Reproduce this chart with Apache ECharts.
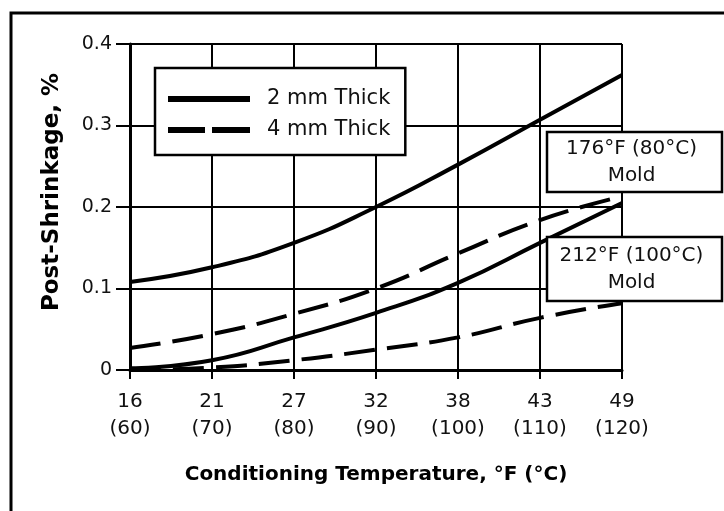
<!DOCTYPE html>
<html><head><meta charset="utf-8">
<script src="https://cdn.jsdelivr.net/npm/echarts@6/dist/echarts.min.js"></script>
<style>html,body{margin:0;padding:0;background:#fff}#c{width:724px;height:511px}</style>
</head><body><div id="c"></div>
<script>
const categories = ['16\n(60)', '21\n(70)', '27\n(80)', '32\n(90)', '38\n(100)', '43\n(110)', '49\n(120)'];
const mold176_2mm = [0.108, 0.126, 0.156, 0.200, 0.252, 0.307, 0.362];
const mold176_4mm = [0.027, 0.044, 0.069, 0.100, 0.143, 0.184, 0.213];
const mold212_2mm = [0.002, 0.012, 0.040, 0.070, 0.107, 0.156, 0.205];
const mold212_4mm = [0.000, 0.003, 0.012, 0.025, 0.040, 0.064, 0.082];
const yTicks = [0, 0.1, 0.2, 0.3, 0.4];
const annotation176 = '176°F (80°C)\nMold';
const annotation212 = '212°F (100°C)\nMold';

const font = 'DejaVu Sans';
const chart = echarts.init(document.getElementById('c'));
const solid = {type: 'solid', width: 4, color: '#000'};
const dashed = {type: [31, 12], width: 4, color: '#000'};
function ser(name, data, ls) {
  return {name, type: 'line', data, smooth: true, symbol: 'none', showSymbol: false,
    lineStyle: ls, itemStyle: {color: '#000'}, z: 5, animation: false};
}
function box(x, y, w, h, text) {
  return {type: 'group', z: 20, children: [
    {type: 'rect', shape: {x, y, width: w, height: h}, style: {fill: '#fff', stroke: '#000', lineWidth: 2.5}, z: 20},
    {type: 'text', x: x + w / 2 - 3, y: y + h / 2, z: 21, style: {text, fontFamily: font, fontSize: 20, lineHeight: 27,
      fill: '#111', align: 'center', verticalAlign: 'middle'}}
  ]};
}
chart.setOption({
  animation: false,
  backgroundColor: '#fff',
  grid: {left: 130, right: 102, top: 44, bottom: 141},
  xAxis: {
    type: 'category', data: categories, boundaryGap: false,
    axisLine: {lineStyle: {color: '#000', width: 3}},
    axisTick: {show: true, length: 9, lineStyle: {color: '#000', width: 2}},
    splitLine: {show: true, lineStyle: {color: '#000', width: 2}},
    axisLabel: {color: '#111', fontFamily: font, fontSize: 20, lineHeight: 27, margin: 18, interval: 0},
    name: 'Conditioning Temperature, °F (°C)', nameLocation: 'middle', nameGap: 95,
    nameTextStyle: {color: '#000', fontFamily: font, fontSize: 20, fontWeight: 'bold'}
  },
  yAxis: {
    type: 'value', min: 0, max: 0.4, interval: 0.1,
    axisLine: {show: true, lineStyle: {color: '#000', width: 3}},
    axisTick: {show: true, length: 14, lineStyle: {color: '#000', width: 2}},
    splitLine: {show: true, lineStyle: {color: '#000', width: 2}},
    axisLabel: {color: '#111', fontFamily: font, fontSize: 19, margin: 18,
      formatter: v => { const t = yTicks.find(x => Math.abs(x - v) < 1e-9); return t === undefined ? '' : String(t); }},
    name: 'Post-Shrinkage, %', nameLocation: 'middle', nameGap: 66, nameRotate: 90,
    nameTextStyle: {color: '#000', fontFamily: font, fontSize: 23, fontWeight: 'bold', padding: [0, 0, 0, 30]}
  },
  legend: {
    left: 155, top: 68, orient: 'vertical', itemGap: 9,
    backgroundColor: '#fff', borderColor: '#000', borderWidth: 2.5, borderRadius: 0,
    padding: [20, 15, 14, 13], itemWidth: 82, itemHeight: 6,
    textStyle: {color: '#111', fontFamily: font, fontSize: 21, lineHeight: 22, padding: [0, 0, 0, 12]},
    data: [
      {name: '2 mm Thick', icon: 'path://M0 0H82V6H0Z'},
      {name: '4 mm Thick', icon: 'path://M0 0H37V6H0Z M44 0H82V6H44Z'}
    ],
    z: 10
  },
  series: [
    ser('2 mm Thick', mold176_2mm, solid),
    ser('4 mm Thick', mold176_4mm, dashed),
    ser('2 mm Thick', mold212_2mm, solid),
    ser('4 mm Thick', mold212_4mm, dashed)
  ],
  graphic: [
    {type: 'rect', shape: {x: 11, y: 13, width: 730, height: 520}, style: {fill: 'none', stroke: '#000', lineWidth: 3}, silent: true, z: 100},
    box(547, 132, 175, 60, annotation176),
    box(547, 237, 175, 64, annotation212)
  ]
});
</script></body></html>
